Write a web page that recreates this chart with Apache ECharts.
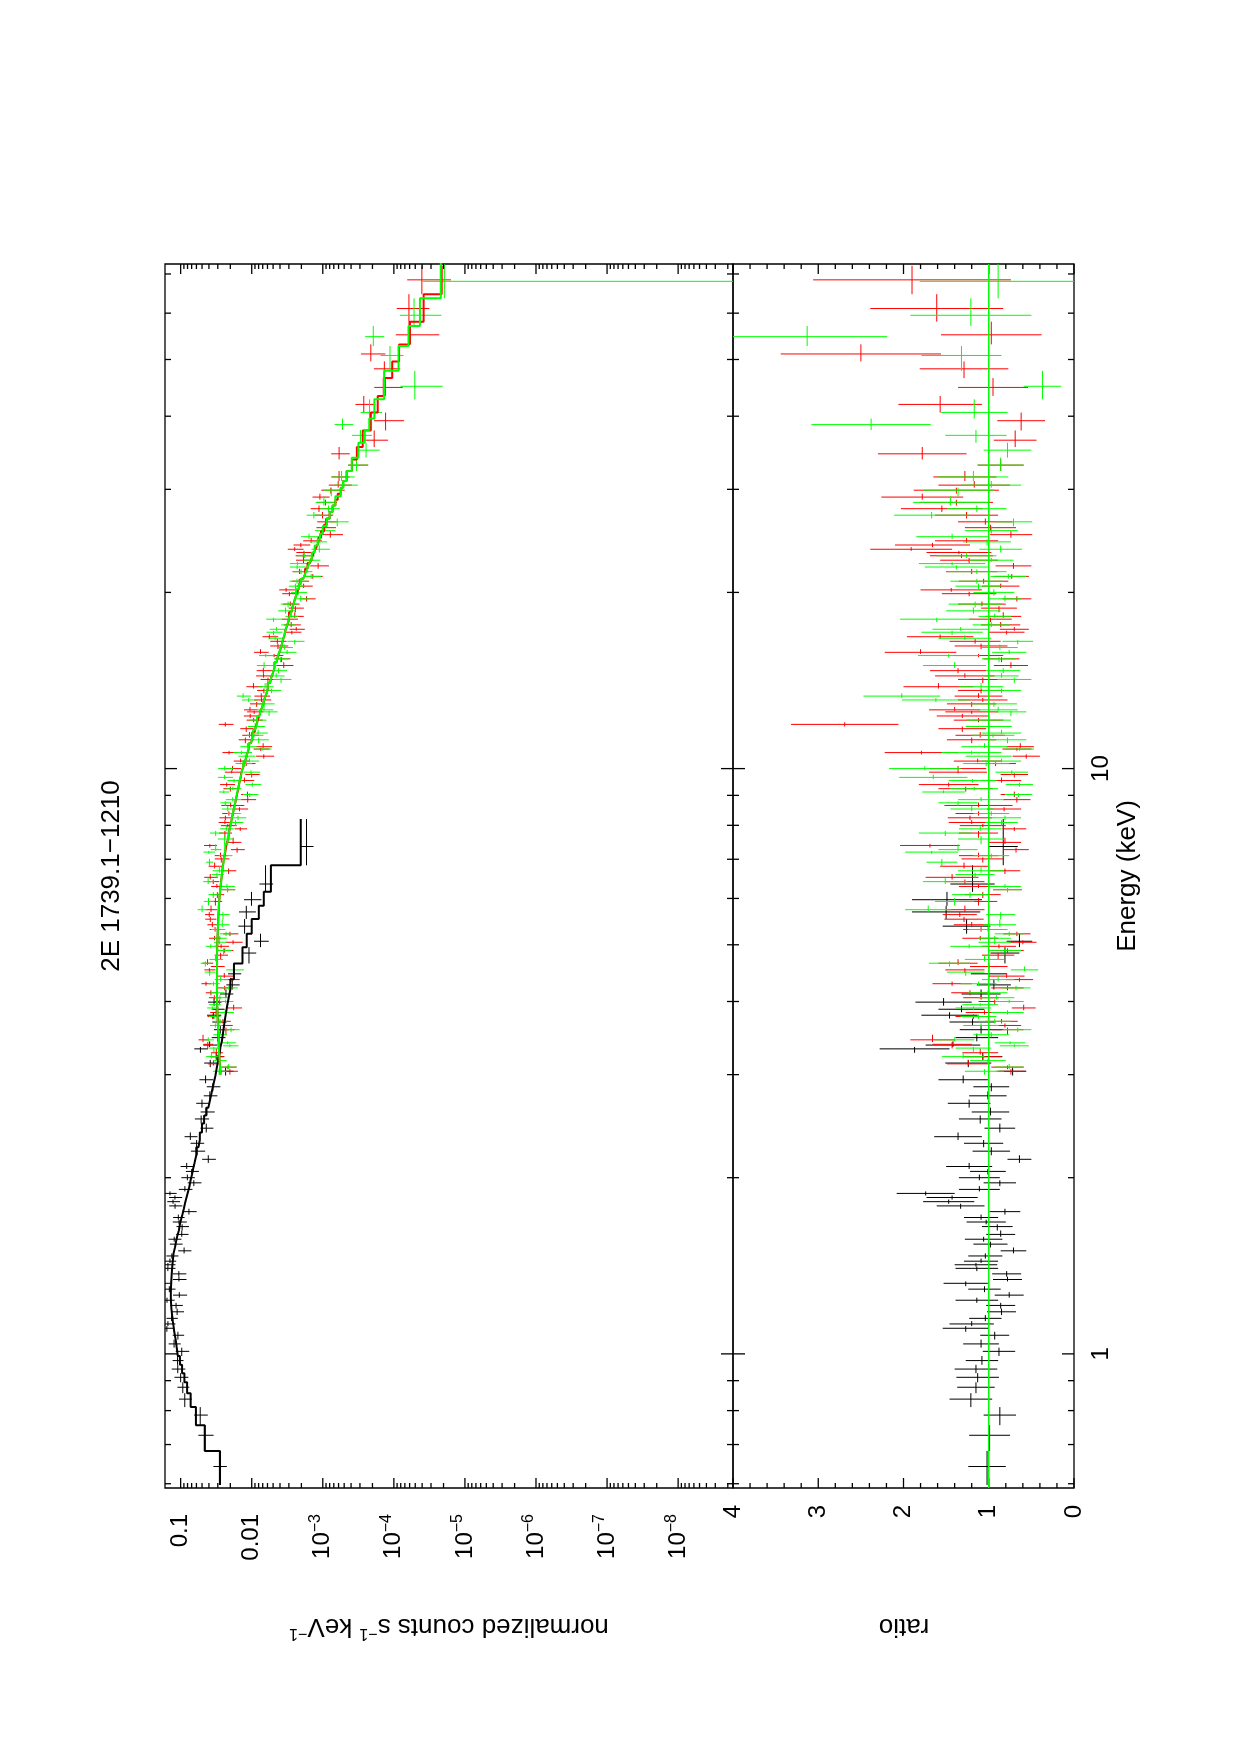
<!DOCTYPE html>
<html>
<head>
<meta charset="utf-8">
<title>2E 1739.1-1210</title>
<script src="https://cdn.jsdelivr.net/npm/echarts@6/dist/echarts.min.js"></script>
<style>
    html, body { margin: 0; padding: 0; background: #fff; }
    #chart { width: 1240px; height: 1755px; }
</style>
</head>
<body>
<div id="chart"></div>
<script>
// ---- data (highest-energy bin first, energies in keV) ----

// black: soft X-ray spectrum
const blackE = [
    7.36, 6.35, 5.97, 5.69, 5.38, 5.07, 4.84, 4.46, 4.27, 4.12,
    3.99, 3.88, 3.79, 3.69, 3.58, 3.47, 3.37, 3.32, 3.22, 3.14,
    3.04, 2.94, 2.86, 2.76, 2.68, 2.59, 2.52, 2.43, 2.35, 2.29,
    2.22, 2.15, 2.09, 2.05, 2.00, 1.96, 1.91, 1.88, 1.85, 1.82,
    1.79, 1.75, 1.71, 1.68, 1.65, 1.60, 1.57, 1.54, 1.50, 1.47,
    1.44, 1.42, 1.40, 1.37, 1.34, 1.32, 1.29, 1.26, 1.235, 1.21,
    1.18, 1.15, 1.125, 1.106, 1.076, 1.04, 1.01, 0.974, 0.942, 0.912,
    0.877, 0.837, 0.786, 0.726, 0.642
];
const blackRatio = [
    0.83, 1.19, 1.49, 1.50, 1.26, 0.64, 0.81, 1.00, 0.94, 1.09,
    1.53, 1.32, 1.46, 1.19, 1.09, 1.14, 1.42, 1.87, 1.07, 1.24,
    0.72, 1.30, 0.97, 1.01, 1.23, 0.98, 1.10, 0.87, 1.36, 1.06,
    0.97, 0.64, 1.23, 1.01, 1.11, 0.87, 1.11, 1.74, 1.43, 1.47,
    1.33, 0.81, 1.09, 1.03, 0.90, 0.86, 1.06, 0.98, 0.71, 1.04,
    1.09, 1.15, 1.14, 0.79, 0.78, 1.27, 1.05, 0.76, 1.14, 0.86,
    0.85, 1.04, 1.20, 1.27, 0.93, 1.09, 0.88, 1.08, 1.15, 1.13,
    1.15, 1.21, 0.87, 0.99, 1.02
];
const blackErr = [
    0.17, 0.26, 0.41, 0.40, 0.28, 0.15, 0.17, 0.21, 0.20, 0.23,
    0.33, 0.27, 0.33, 0.27, 0.25, 0.25, 0.32, 0.41, 0.23, 0.27,
    0.16, 0.29, 0.21, 0.22, 0.25, 0.22, 0.25, 0.18, 0.28, 0.23,
    0.22, 0.14, 0.27, 0.21, 0.24, 0.19, 0.24, 0.34, 0.30, 0.30,
    0.28, 0.18, 0.20, 0.23, 0.18, 0.17, 0.22, 0.20, 0.15, 0.20,
    0.20, 0.25, 0.25, 0.17, 0.17, 0.26, 0.19, 0.17, 0.25, 0.17,
    0.17, 0.19, 0.26, 0.27, 0.17, 0.21, 0.19, 0.19, 0.25, 0.25,
    0.22, 0.25, 0.19, 0.24, 0.22
];
// model, log10(counts s^-1 keV^-1)
const blackModelLog = [
    -2.69, -2.27, -2.17, -2.10, -2.00, -1.93, -1.87, -1.75, -1.70, -1.675,
    -1.655, -1.64, -1.625, -1.61, -1.595, -1.58, -1.56, -1.55, -1.53, -1.51,
    -1.49, -1.465, -1.44, -1.415, -1.39, -1.36, -1.33, -1.30, -1.27, -1.25,
    -1.22, -1.195, -1.175, -1.16, -1.14, -1.125, -1.105, -1.09, -1.075, -1.06,
    -1.045, -1.025, -1.005, -0.99, -0.975, -0.95, -0.935, -0.92, -0.90, -0.893,
    -0.887, -0.882, -0.877, -0.872, -0.868, -0.865, -0.862, -0.862, -0.865, -0.87,
    -0.88, -0.89, -0.90, -0.91, -0.93, -0.945, -0.96, -0.99, -1.02, -1.053,
    -1.091, -1.141, -1.215, -1.339, -1.554
];

// red: hard X-ray spectrum, first module
const redE = [
    68.4, 61.1, 55.1, 51.1, 48.2, 44.8, 41.9, 39.3, 36.4, 34.5, 33.0,
    31.5, 30.5, 29.9, 29.1, 28.5, 27.8, 27.1, 26.4, 25.8, 25.1,
    24.5, 24.1, 23.7, 23.4, 23.1, 22.7, 22.2, 21.7, 21.3, 20.9,
    20.5, 20.2, 19.9, 19.5, 19.1, 18.8, 18.2, 18.0, 17.6, 17.3,
    17.1, 16.8, 16.5, 16.2, 15.8, 15.6, 15.4, 15.0, 14.7, 14.4,
    14.2, 13.8, 13.6, 13.3, 13.1, 12.9, 12.6, 12.5, 12.3, 12.1,
    11.9, 11.7, 11.4, 11.2, 10.9, 10.8, 10.65, 10.5, 10.3, 10.2,
    10.0, 9.86, 9.77, 9.54, 9.39, 9.24, 9.03, 8.85, 8.65, 8.53,
    8.38, 8.24, 8.09, 7.99, 7.89, 7.76, 7.48, 7.39, 7.27, 7.10,
    7.01, 6.81, 6.69, 6.52, 6.41, 6.29, 6.21, 6.09, 5.93, 5.74,
    5.63, 5.53, 5.41, 5.31, 5.22, 5.13, 5.05, 4.97, 4.89, 4.80,
    4.65, 4.59, 4.53, 4.42, 4.36, 4.29, 4.22, 4.14, 4.06, 4.00,
    3.90, 3.83, 3.77, 3.70, 3.64, 3.58, 3.44, 3.38, 3.27, 3.22,
    3.13, 3.09, 3.04
];
const redRatio = [
    1.90, 1.61, 0.97, 2.50, 1.29, 0.95, 1.57, 0.62, 0.69, 1.78, 0.86,
    1.28, 1.17, 1.38, 1.78, 1.38, 1.55, 1.26, 1.04, 0.98, 0.74,
    1.26, 1.66, 1.91, 1.35, 1.32, 1.23, 0.71, 1.20, 0.73, 1.06,
    0.86, 1.44, 1.23, 0.67, 1.08, 0.88, 0.83, 0.98, 0.86, 0.70,
    0.79, 1.57, 1.16, 1.09, 1.80, 1.12, 0.85, 0.74, 1.36, 1.28,
    1.07, 1.59, 1.09, 1.12, 1.07, 1.20, 1.40, 1.20, 1.31, 1.12,
    2.69, 1.31, 1.10, 1.20, 0.63, 0.67, 1.79, 0.56, 1.13, 0.92,
    1.36, 1.36, 0.70, 0.85, 1.47, 1.27, 0.70, 0.67, 1.12, 0.82,
    1.12, 1.22, 1.20, 1.07, 0.70, 1.12, 0.81, 1.69, 0.68, 1.12,
    1.07, 1.29, 0.81, 1.43, 1.28, 1.12, 0.78, 1.07, 1.12, 1.28,
    1.34, 1.29, 1.20, 1.09, 0.67, 1.10, 0.60, 0.88, 0.78, 0.89,
    1.36, 1.00, 1.28, 0.79, 0.64, 1.43, 0.78, 1.22, 1.09, 0.93,
    0.59, 1.05, 1.18, 0.85, 0.81, 0.78, 1.66, 1.43, 1.10, 1.07,
    1.24, 0.78, 0.74
];
const redErr = [
    1.16, 0.78, 0.59, 0.94, 0.52, 0.41, 0.49, 0.28, 0.25, 0.52, 0.27,
    0.37, 0.42, 0.50, 0.48, 0.43, 0.48, 0.37, 0.32, 0.30, 0.25,
    0.37, 0.44, 0.48, 0.38, 0.37, 0.34, 0.21, 0.30, 0.20, 0.29,
    0.22, 0.36, 0.32, 0.17, 0.28, 0.21, 0.21, 0.25, 0.23, 0.17,
    0.21, 0.39, 0.30, 0.31, 0.42, 0.29, 0.21, 0.20, 0.33, 0.35,
    0.29, 0.41, 0.27, 0.28, 0.29, 0.29, 0.30, 0.31, 0.30, 0.29,
    0.63, 0.28, 0.29, 0.29, 0.16, 0.17, 0.43, 0.16, 0.28, 0.24,
    0.33, 0.34, 0.16, 0.23, 0.35, 0.32, 0.16, 0.16, 0.40, 0.20,
    0.27, 0.26, 0.27, 0.27, 0.14, 0.23, 0.19, 0.35, 0.15, 0.23,
    0.25, 0.28, 0.18, 0.31, 0.23, 0.23, 0.17, 0.21, 0.22, 0.23,
    0.20, 0.23, 0.21, 0.21, 0.16, 0.21, 0.16, 0.20, 0.19, 0.19,
    0.23, 0.22, 0.23, 0.21, 0.16, 0.23, 0.19, 0.22, 0.21, 0.19,
    0.14, 0.22, 0.21, 0.19, 0.19, 0.19, 0.26, 0.23, 0.21, 0.22,
    0.25, 0.19, 0.17
];
const redModelLog = [
    -4.673, -4.419, -4.22, -4.074, -3.977, -3.858, -3.773, -3.676, -3.562, -3.48, -3.41,
    -3.336, -3.285, -3.253, -3.21, -3.177, -3.137, -3.097, -3.055, -3.018, -2.975,
    -2.937, -2.911, -2.886, -2.866, -2.846, -2.819, -2.786, -2.751, -2.723, -2.694,
    -2.665, -2.642, -2.62, -2.598, -2.576, -2.559, -2.525, -2.514, -2.49, -2.472,
    -2.462, -2.444, -2.425, -2.406, -2.379, -2.364, -2.35, -2.32, -2.297, -2.274,
    -2.258, -2.226, -2.209, -2.184, -2.167, -2.149, -2.122, -2.114, -2.096, -2.077,
    -2.058, -2.04, -2.01, -1.99, -1.96, -1.95, -1.934, -1.918, -1.897, -1.886,
    -1.863, -1.852, -1.845, -1.827, -1.815, -1.803, -1.785, -1.77, -1.753, -1.742,
    -1.728, -1.716, -1.702, -1.693, -1.684, -1.672, -1.647, -1.638, -1.627, -1.61,
    -1.601, -1.589, -1.583, -1.572, -1.566, -1.559, -1.553, -1.546, -1.538, -1.535,
    -1.530, -1.528, -1.525, -1.522, -1.52, -1.518, -1.516, -1.514, -1.512, -1.512,
    -1.512, -1.512, -1.512, -1.512, -1.512, -1.512, -1.512, -1.512, -1.512, -1.512,
    -1.517, -1.519, -1.521, -1.524, -1.526, -1.529, -1.535, -1.537, -1.543, -1.547,
    -1.555, -1.558, -1.562
];

// green: hard X-ray spectrum, second module
const greenE = [
    68.0, 59.5, 54.7, 50.8, 45.0, 40.6, 38.7, 37.1, 35.0, 33.0,
    31.5, 30.5, 29.9, 28.5, 27.8, 27.1, 26.4, 25.5, 24.9, 24.4,
    23.7, 23.1, 22.7, 22.4, 22.1, 21.7, 21.3, 20.9, 20.5, 20.0,
    19.5, 19.1, 18.6, 18.2, 18.0, 17.6, 17.3, 17.1, 16.7, 16.5,
    16.1, 15.8, 15.6, 15.4, 15.0, 14.7, 14.4, 14.2, 13.8, 13.6,
    13.3, 13.1, 12.9, 12.6, 12.5, 12.1, 11.8, 11.5, 11.4, 11.2,
    10.9, 10.8, 10.65, 10.5, 10.3, 10.2, 10.0, 9.86, 9.66, 9.54,
    9.39, 9.24, 9.12, 9.03, 8.85, 8.74, 8.53, 8.38, 8.24, 8.09,
    7.89, 7.76, 7.58, 7.27, 7.20, 7.10, 6.92, 6.69, 6.59, 6.41,
    6.29, 6.21, 6.09, 5.93, 5.74, 5.63, 5.41, 5.31, 5.22, 5.13,
    5.05, 4.97, 4.89, 4.72, 4.65, 4.53, 4.49, 4.36, 4.29, 4.22,
    4.14, 4.06, 4.00, 3.95, 3.90, 3.83, 3.77, 3.70, 3.64, 3.58,
    3.51, 3.44, 3.40, 3.36, 3.33, 3.22, 3.17, 3.09, 3.04
];
const greenRatio = [
    0.89, 1.21, 3.13, 1.32, 0.37, 1.17, 2.38, 1.15, 0.78, 0.86,
    1.18, 0.97, 1.36, 1.45, 1.14, 1.67, 0.71, 0.97, 1.43, 1.02,
    0.86, 1.26, 0.97, 1.43, 1.38, 1.14, 0.77, 1.14, 1.12, 0.94,
    0.81, 1.16, 1.18, 0.93, 1.61, 0.97, 1.33, 1.43, 1.28, 0.66,
    0.87, 0.76, 1.47, 0.88, 1.40, 0.83, 0.85, 0.70, 1.09, 0.85,
    2.02, 1.62, 0.94, 0.89, 0.74, 1.00, 1.00, 0.85, 0.95, 0.78,
    1.05, 0.64, 1.20, 1.00, 0.85, 1.03, 1.75, 0.73, 1.65, 1.19,
    0.64, 1.17, 1.53, 0.65, 1.09, 1.36, 1.20, 0.97, 0.81, 0.85,
    1.10, 1.51, 1.09, 1.36, 1.67, 0.97, 1.55, 1.09, 1.16, 1.51,
    0.81, 0.78, 1.22, 1.40, 1.71, 0.86, 0.87, 1.01, 0.76, 0.93,
    0.93, 1.23, 0.81, 1.05, 1.46, 0.58, 1.27, 0.89, 1.12, 0.68,
    1.01, 0.91, 0.76, 1.10, 1.18, 0.78, 1.12, 0.93, 1.09, 0.66,
    0.97, 1.40, 0.75, 0.70, 1.18, 1.30, 1.01, 0.76, 1.05
];
const greenErr = [
    0.92, 0.71, 0.94, 0.47, 0.22, 0.39, 0.70, 0.36, 0.28, 0.27,
    0.41, 0.35, 0.41, 0.44, 0.35, 0.44, 0.22, 0.31, 0.42, 0.28,
    0.25, 0.35, 0.26, 0.39, 0.37, 0.35, 0.21, 0.31, 0.27, 0.24,
    0.20, 0.31, 0.32, 0.19, 0.43, 0.22, 0.33, 0.36, 0.31, 0.18,
    0.21, 0.20, 0.36, 0.20, 0.37, 0.20, 0.20, 0.20, 0.26, 0.23,
    0.45, 0.40, 0.27, 0.23, 0.18, 0.26, 0.27, 0.23, 0.25, 0.22,
    0.27, 0.17, 0.35, 0.27, 0.23, 0.27, 0.42, 0.19, 0.40, 0.28,
    0.16, 0.28, 0.25, 0.16, 0.27, 0.23, 0.25, 0.21, 0.19, 0.19,
    0.25, 0.31, 0.27, 0.23, 0.31, 0.21, 0.18, 0.27, 0.23, 0.26,
    0.19, 0.17, 0.21, 0.23, 0.27, 0.17, 0.19, 0.23, 0.17, 0.19,
    0.19, 0.22, 0.19, 0.23, 0.24, 0.16, 0.22, 0.19, 0.21, 0.17,
    0.23, 0.21, 0.17, 0.21, 0.21, 0.19, 0.21, 0.19, 0.21, 0.16,
    0.21, 0.23, 0.18, 0.17, 0.21, 0.25, 0.21, 0.17, 0.23
];
const greenModelLog = [
    -4.66, -4.367, -4.206, -4.066, -3.863, -3.726, -3.654, -3.591, -3.501, -3.409,
    -3.336, -3.285, -3.253, -3.177, -3.137, -3.097, -3.055, -2.998, -2.961, -2.931,
    -2.886, -2.846, -2.819, -2.799, -2.779, -2.751, -2.723, -2.694, -2.665, -2.624,
    -2.598, -2.576, -2.548, -2.525, -2.514, -2.49, -2.472, -2.462, -2.437, -2.425,
    -2.399, -2.379, -2.364, -2.35, -2.32, -2.297, -2.274, -2.258, -2.226, -2.209,
    -2.184, -2.167, -2.149, -2.122, -2.114, -2.077, -2.049, -2.02, -2.01, -1.99,
    -1.96, -1.95, -1.934, -1.918, -1.897, -1.886, -1.863, -1.852, -1.836, -1.827,
    -1.815, -1.803, -1.792, -1.785, -1.77, -1.761, -1.742, -1.728, -1.716, -1.702,
    -1.684, -1.672, -1.656, -1.627, -1.619, -1.61, -1.596, -1.583, -1.576, -1.566,
    -1.559, -1.553, -1.546, -1.538, -1.535, -1.530, -1.525, -1.522, -1.52, -1.518,
    -1.516, -1.514, -1.512, -1.512, -1.512, -1.512, -1.512, -1.512, -1.512, -1.512,
    -1.512, -1.512, -1.513, -1.515, -1.517, -1.519, -1.521, -1.524, -1.526, -1.529,
    -1.532, -1.535, -1.536, -1.538, -1.539, -1.547, -1.551, -1.558, -1.562
];

// outer bin edges [top, bottom] of each data set, keV
const blackRange = [8.2, 0.597];
const redRange = [72.3, 3.0];
const greenRange = [78, 3.0];

// axes
const countMin = 1.69e-9, countMax = 0.166;
const energyMin = 0.59, energyMax = 72.8;
const ratioMin = 0, ratioMax = 4;
const energyTicks = [0.6, 0.7, 0.8, 0.9, 1, 2, 3, 4, 5, 6, 7, 8, 9, 10, 20, 30, 40, 50, 60, 70];
const energyLabels = [1, 10];
const countDecades = [-9, -8, -7, -6, -5, -4, -3, -2, -1];

const FONT = '"Liberation Sans", Arial, Helvetica, sans-serif';

// ---- helpers ----

// contiguous bins: each edge sits halfway (in log) between two bin centres
const binEdges = (centers, range) => centers.map((e, i) => [
    i === centers.length - 1 ? range[1] : Math.sqrt(e * centers[i + 1]),
    i === 0 ? range[0] : Math.sqrt(e * centers[i - 1])
]);

// data = ratio x model in the top panel, ratio itself in the bottom one
const buildSet = (E, ratio, err, modelLog, range) => {
    const edges = binEdges(E, range);
    const upper = [], lower = [], model = [];
    E.forEach((e, i) => {
        const m = Math.pow(10, modelLog[i]);
        const [lo, hi] = edges[i];
        upper.push([e, lo, hi, ratio[i] * m, (ratio[i] - err[i]) * m, (ratio[i] + err[i]) * m]);
        lower.push([e, lo, hi, ratio[i], ratio[i] - err[i], ratio[i] + err[i]]);
        model.push([m, hi], [m, lo]);
    });
    return { upper, lower, model };
};

// one error cross: horizontal = value error, vertical = energy bin
const crossRenderer = (color, floor) => (params, api) => {
    const e = api.value(0), v = api.value(3);
    const c = api.coord([v, e]);
    const a = api.coord([Math.max(api.value(4), floor), e]);
    const b = api.coord([api.value(5), e]);
    const t = api.coord([v, api.value(2)]);
    const d = api.coord([v, api.value(1)]);
    const style = { stroke: color, lineWidth: 1 };
    return {
        type: 'group',
        children: [
            { type: 'line', shape: { x1: a[0], y1: c[1], x2: b[0], y2: c[1] }, style },
            { type: 'line', shape: { x1: c[0], y1: t[1], x2: c[0], y2: d[1] }, style }
        ]
    };
};

// inward tick marks on both energy edges of a panel
const energyTickRenderer = (params, api) => {
    const r = params.coordSys;
    const y = api.coord([api.value(0), api.value(1)])[1];
    const len = api.value(2) ? 12 : 6;
    const style = { stroke: '#000', lineWidth: 1.3 };
    return {
        type: 'group',
        children: [
            { type: 'line', shape: { x1: r.x, y1: y, x2: r.x + len, y2: y }, style },
            { type: 'line', shape: { x1: r.x + r.width - len, y1: y, x2: r.x + r.width, y2: y }, style }
        ]
    };
};

// inward tick marks on both value edges of a panel
const valueTickRenderer = (params, api) => {
    const r = params.coordSys;
    const x = api.coord([api.value(0), api.value(1)])[0];
    const len = api.value(2) ? 10 : 5;
    const style = { stroke: '#000', lineWidth: 1.3 };
    return {
        type: 'group',
        children: [
            { type: 'line', shape: { x1: x, y1: r.y, x2: x, y2: r.y + len }, style },
            { type: 'line', shape: { x1: x, y1: r.y + r.height - len, x2: x, y2: r.y + r.height }, style }
        ]
    };
};

const isDecade = v => {
    const p = Math.log10(v);
    return Math.abs(p - Math.round(p)) < 1e-6;
};

const countLabel = v => {
    if (!isDecade(v)) return '';
    const p = Math.round(Math.log10(v));
    if (p === -1) return '{b|0.1}';
    if (p === -2) return '{b|0.01}';
    return '{b|10}{s|\u2212' + (-p) + '}';
};

const labelRich = {
    b: { fontSize: 24, fontFamily: FONT, color: '#000', lineHeight: 30 },
    s: { fontSize: 16, fontFamily: FONT, color: '#000', lineHeight: 18, verticalAlign: 'top' }
};

// ---- series ----

const black = buildSet(blackE, blackRatio, blackErr, blackModelLog, blackRange);
const red = buildSet(redE, redRatio, redErr, redModelLog, redRange);
const green = buildSet(greenE, greenRatio, greenErr, greenModelLog, greenRange);

const series = [];
[[black, '#000000'], [red, '#ff0000'], [green, '#00ff00']].forEach(([set, color]) => {
    series.push({
        type: 'custom', xAxisIndex: 0, yAxisIndex: 0, clip: true, silent: true,
        encode: { x: 3, y: 0 }, data: set.upper,
        renderItem: crossRenderer(color, countMin / 1000)
    });
    series.push({
        type: 'line', xAxisIndex: 0, yAxisIndex: 0, data: set.model,
        symbol: 'none', silent: true, lineStyle: { color, width: 2 }
    });
    series.push({
        type: 'custom', xAxisIndex: 1, yAxisIndex: 1, clip: true, silent: true,
        encode: { x: 3, y: 0 }, data: set.lower,
        renderItem: crossRenderer(color, ratioMin - 1)
    });
});

// model / model = 1
series.push({
    type: 'line', xAxisIndex: 1, yAxisIndex: 1, symbol: 'none', silent: true,
    data: [[1, energyMin], [1, energyMax]],
    lineStyle: { color: '#00ff00', width: 1.5 }
});

// tick marks
const countTicks = [];
countDecades.forEach(d => {
    for (let k = 1; k <= 9; k++) {
        const v = k * Math.pow(10, d);
        if (v >= countMin && v <= countMax) countTicks.push([v, 1, k === 1 ? 1 : 0]);
    }
});
const ratioTicks = [];
for (let k = 0; k <= 20; k++) ratioTicks.push([k * 0.2, 1, k % 5 === 0 ? 1 : 0]);

series.push(
    {
        type: 'custom', xAxisIndex: 0, yAxisIndex: 0, silent: true, encode: { x: 0, y: 1 },
        data: energyTicks.map(e => [1e-3, e, energyLabels.includes(e) ? 1 : 0]),
        renderItem: energyTickRenderer
    },
    {
        type: 'custom', xAxisIndex: 1, yAxisIndex: 1, silent: true, encode: { x: 0, y: 1 },
        data: energyTicks.map(e => [1, e, energyLabels.includes(e) ? 1 : 0]),
        renderItem: energyTickRenderer
    },
    {
        type: 'custom', xAxisIndex: 0, yAxisIndex: 0, silent: true, encode: { x: 0, y: 1 },
        data: countTicks, renderItem: valueTickRenderer
    },
    {
        type: 'custom', xAxisIndex: 1, yAxisIndex: 1, silent: true, encode: { x: 0, y: 1 },
        data: ratioTicks, renderItem: valueTickRenderer
    }
);

// ---- chart ----

const hidden = { axisLine: { show: false }, axisTick: { show: false }, splitLine: { show: false } };
const gridStyle = { show: true, borderColor: '#000', borderWidth: 1.3, outerBoundsMode: 'none' };

const option = {
    animation: false,
    backgroundColor: '#fff',
    grid: [
        { left: 165, top: 264, width: 568, height: 1224, ...gridStyle },
        { left: 733, top: 264, width: 341, height: 1224, ...gridStyle }
    ],
    xAxis: [
        {
            type: 'log', gridIndex: 0, min: countMin, max: countMax, inverse: true, ...hidden,
            axisLabel: { rotate: 90, margin: 26, formatter: countLabel, rich: labelRich }
        },
        {
            type: 'value', gridIndex: 1, min: ratioMin, max: ratioMax, interval: 1, inverse: true, ...hidden,
            axisLabel: { rotate: 90, margin: 17, formatter: v => '{b|' + v + '}', rich: labelRich }
        }
    ],
    yAxis: [
        { type: 'log', gridIndex: 0, min: energyMin, max: energyMax, ...hidden, axisLabel: { show: false } },
        {
            type: 'log', gridIndex: 1, min: energyMin, max: energyMax, position: 'right', ...hidden,
            axisLabel: {
                rotate: 90, margin: 12, rich: labelRich,
                formatter: v => (isDecade(v) && energyLabels.includes(Math.round(v))) ? '{b|' + Math.round(v) + '}' : ''
            }
        }
    ],
    graphic: [
        {
            type: 'text', x: 112, y: 876, rotation: Math.PI / 2,
            style: { text: '2E 1739.1\u22121210', fontSize: 26, fontFamily: FONT, fill: '#000', align: 'center', verticalAlign: 'middle' }
        },
        {
            type: 'text', x: 1128, y: 876, rotation: Math.PI / 2,
            style: { text: 'Energy (keV)', fontSize: 26, fontFamily: FONT, fill: '#000', align: 'center', verticalAlign: 'middle' }
        },
        {
            type: 'text', x: 449, y: 1626, rotation: Math.PI,
            style: {
                text: '{n|normalized counts s}{s|\u22121}{n| keV}{s|\u22121}',
                align: 'center', verticalAlign: 'middle',
                rich: {
                    n: { fontSize: 26, fontFamily: FONT, fill: '#000', lineHeight: 30 },
                    s: { fontSize: 16, fontFamily: FONT, fill: '#000', lineHeight: 18, verticalAlign: 'top' }
                }
            }
        },
        {
            type: 'text', x: 904, y: 1626, rotation: Math.PI,
            style: { text: 'ratio', fontSize: 26, fontFamily: FONT, fill: '#000', align: 'center', verticalAlign: 'middle' }
        }
    ],
    series
};

const chart = echarts.init(document.getElementById('chart'));
chart.setOption(option);
</script>
</body>
</html>
